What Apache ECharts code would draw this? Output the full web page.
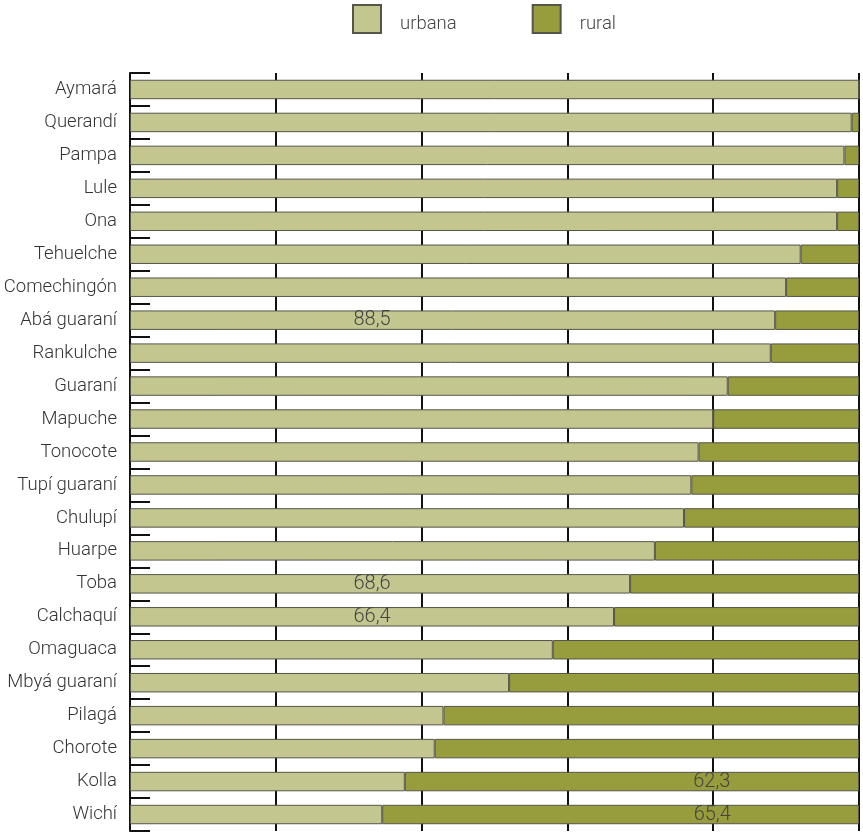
<!DOCTYPE html>
<html>
<head>
<meta charset="utf-8">
<script src="https://cdn.jsdelivr.net/npm/echarts@6/dist/echarts.min.js"></script>
<style>html,body{margin:0;padding:0;background:#fff}#c{width:863px;height:836px}</style>
</head>
<body>
<div id="c"></div>
<script>
var categories = ['Aymará','Querandí','Pampa','Lule','Ona','Tehuelche','Comechingón','Abá guaraní','Rankulche','Guaraní','Mapuche','Tonocote','Tupí guaraní','Chulupí','Huarpe','Toba','Calchaquí','Omaguaca','Mbyá guaraní','Pilagá','Chorote','Kolla','Wichí'];
var urbana = [100, 99.0, 98.0, 97.0, 97.0, 92.0, 90.0, 88.5, 87.9, 82.0, 80.0, 78.0, 77.0, 76.0, 72.0, 68.6, 66.4, 58.0, 52.0, 43.0, 41.8, 37.7, 34.6];
var rural = [0, 1.0, 2.0, 3.0, 3.0, 8.0, 10.0, 11.5, 12.1, 18.0, 20.0, 22.0, 23.0, 24.0, 28.0, 31.4, 33.6, 42.0, 48.0, 57.0, 58.2, 62.3, 65.4];
var seriesNames = ['urbana', 'rural'];

var FONT = "Roboto, 'DejaVu Sans Condensed', sans-serif";
// label placement offsets (px from bar start), by category index
var urbanLabelAt = {7: 242, 15: 242, 16: 242};
var ruralLabelAt = {21: 307, 22: 330};

function build(values, spots) {
  return values.map(function (v, i) {
    var item = {value: v};
    if (spots[i] !== undefined) {
      item.label = {
        show: true,
        position: [spots[i], '50%'],
        align: 'center',
        verticalAlign: 'middle',
        fontFamily: FONT,
        fontWeight: 300,
        fontSize: 20,
        color: '#444',
        formatter: function (p) { return String(p.value).replace('.', ','); }
      };
    }
    return item;
  });
}

var chart = echarts.init(document.getElementById('c'), null, {renderer: 'canvas'});
chart.setOption({
  animation: false,
  legend: {
    left: 352, top: 4, padding: 0,
    itemWidth: 28, itemHeight: 28, itemGap: 75,
    icon: 'rect',
    data: seriesNames,
    formatter: '{t|{name}}',
    textStyle: {
      fontFamily: FONT, fontWeight: 300, fontSize: 18.5, color: '#444',
      rich: {t: {fontFamily: FONT, fontWeight: 300, fontSize: 18.5, color: '#444', padding: [10, 0, 0, 14]}}
    }
  },
  grid: {left: 130, right: 4, top: 73, bottom: 5, containLabel: false, outerBoundsMode: 'none'},
  xAxis: {
    type: 'value', min: 0, max: 100, interval: 20,
    axisLine: {show: false}, axisTick: {show: false}, axisLabel: {show: false},
    splitLine: {show: true, lineStyle: {color: '#111', width: 2}}
  },
  yAxis: {
    type: 'category', data: categories, inverse: true,
    axisLine: {show: true, lineStyle: {color: '#111', width: 2}},
    axisTick: {show: true, inside: true, length: 20, lineStyle: {color: '#111', width: 2}},
    axisLabel: {fontFamily: FONT, fontWeight: 300, fontSize: 18.5, color: '#333', margin: 13}
  },
  series: [
    {
      name: 'urbana', type: 'bar', stack: 't', barCategoryGap: '41%',
      data: build(urbana, urbanLabelAt),
      itemStyle: {color: '#c4c690', borderColor: '#55554a', borderWidth: 1},
      emphasis: {disabled: true}
    },
    {
      name: 'rural', type: 'bar', stack: 't', barCategoryGap: '41%',
      data: build(rural, ruralLabelAt),
      itemStyle: {color: '#979d3d', borderColor: '#55554a', borderWidth: 1},
      emphasis: {disabled: true}
    }
  ]
});
</script>
</body>
</html>
